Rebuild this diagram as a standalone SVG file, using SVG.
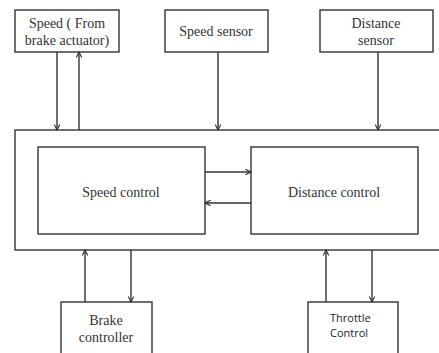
<svg xmlns="http://www.w3.org/2000/svg" width="439" height="353" viewBox="0 0 439 353">
<style>
.box{fill:none;stroke:#333;stroke-width:1.4}
.ln{fill:none;stroke:#333;stroke-width:1.4;marker-end:url(#ah)}
.t{font-family:"Liberation Serif","Times New Roman","DejaVu Serif",serif;font-size:14px;fill:#333;text-anchor:middle}
.s{font-family:"Open Sans","Liberation Sans",sans-serif;font-size:11px;fill:#222}
</style>
<defs>
<marker id="ah" viewBox="0 0 10 10" refX="9" refY="5" markerWidth="7" markerHeight="7" markerUnits="userSpaceOnUse" orient="auto">
<path d="M1,1 L9,5 L1,9" fill="none" stroke="#333" stroke-width="1.6"/>
</marker>
</defs>
<rect width="439" height="353" fill="#fff"/>
<g id="speed-actuator"><rect class="box" x="15" y="10" width="104" height="42"/><text class="t" x="67" y="28">Speed ( From</text><text class="t" x="67" y="45">brake actuator)</text></g>
<g id="speed-sensor"><rect class="box" x="165" y="10" width="103" height="42"/><text class="t" x="216" y="36">Speed sensor</text></g>
<g id="distance-sensor"><rect class="box" x="320" y="10" width="113" height="42"/><text class="t" x="376" y="28">Distance</text><text class="t" x="376" y="45">sensor</text></g>
<g id="controller"><rect class="box" x="15" y="130" width="430" height="120"/></g>
<g id="speed-control"><rect class="box" x="38" y="147" width="167" height="87"/><text class="t" x="121" y="197">Speed control</text></g>
<g id="distance-control"><rect class="box" x="251" y="147" width="167" height="87"/><text class="t" x="334" y="197">Distance control</text></g>
<g id="brake-controller"><rect class="box" x="61" y="302" width="91" height="60"/><text class="t" x="106" y="325">Brake</text><text class="t" x="106" y="342">controller</text></g>
<g id="throttle-control"><rect class="box" x="308" y="302" width="90" height="60"/><text class="s" x="330" y="322">Throttle</text><text class="s" x="330" y="337">Control</text></g>
<g id="connectors">
<path class="ln" d="M57,52 V130"/>
<path class="ln" d="M79,130 V52"/>
<path class="ln" d="M218,52 V130"/>
<path class="ln" d="M378,52 V130"/>
<path class="ln" d="M205,172 H251"/>
<path class="ln" d="M251,203 H205"/>
<path class="ln" d="M85,302 V250"/>
<path class="ln" d="M131,250 V302"/>
<path class="ln" d="M326,302 V250"/>
<path class="ln" d="M372,250 V302"/>
</g>
</svg>
